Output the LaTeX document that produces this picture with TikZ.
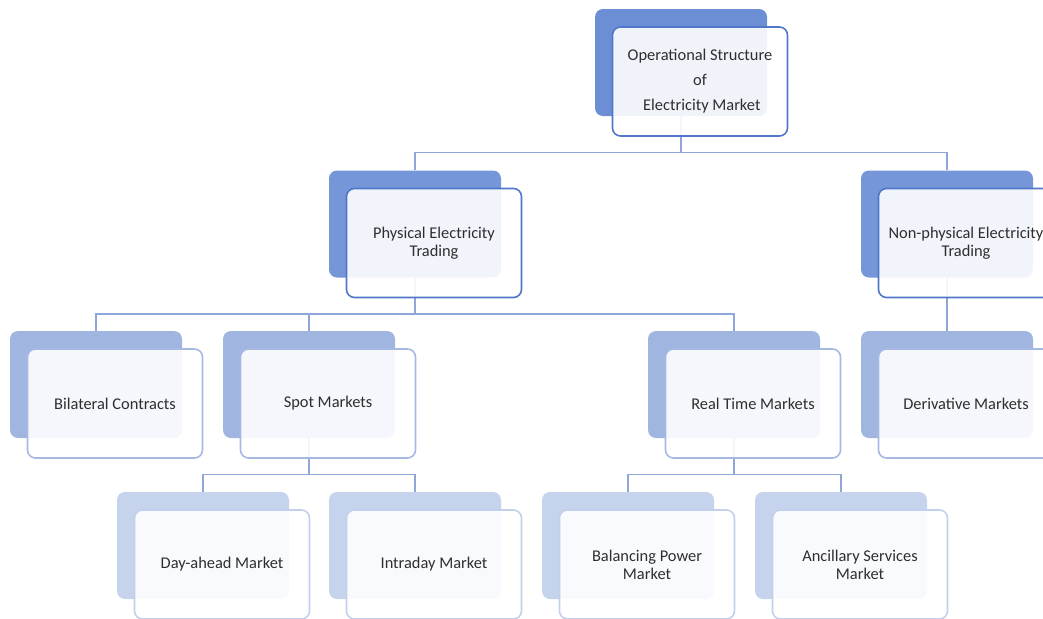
\documentclass[tikz,border=0pt]{standalone}
\usepackage{fontspec}
\setmainfont{Carlito}
\usepackage{xcolor}
\usetikzlibrary{positioning}
\definecolor{marketdark}{HTML}{6C8ED5}
\definecolor{marketmid}{HTML}{7596D8}
\definecolor{marketlight}{HTML}{A0B6E1}
\definecolor{marketpale}{HTML}{C6D3EC}
\definecolor{edgedark}{HTML}{5077C9}
\definecolor{edgelight}{HTML}{A6B9E3}
\definecolor{edgepale}{HTML}{C3D0EB}
\definecolor{linkblue}{HTML}{8FA6DB}
\definecolor{marketText}{HTML}{2E2E2E}

\begin{document}
\begin{tikzpicture}[
        x=0.75pt, y=-0.75pt,
        font=\fontsize{12.3}{13.5}\selectfont,
        backbox/.style={
            fill=#1,
            rounded corners=6pt,
            inner sep=0pt,
            minimum width=129pt,
            minimum height=80.25pt
        },
        frontbox/.style={
            draw=#1,
            line width=1.2pt,
            fill=white,
            fill opacity=0.9,
            text opacity=1,
            text=marketText,
            rounded corners=6pt,
            inner sep=0pt,
            minimum width=131.25pt,
            minimum height=81.75pt,
            align=center
        },
        link/.style={draw=linkblue, line width=1.1pt}
    ]
        \useasboundingbox (0,0) rectangle (1043,618);
        \clip (0,0) rectangle (1043,618);

        % back boxes
        \node[backbox=marketdark] (root) at (681,62.5) {};
        \node[backbox=marketmid] (phys) at (415,224) {};
        \node[backbox=marketmid] (nonphys) at (947,224) {};
        \node[backbox=marketlight] (bilat) at (96,384.5) {};
        \node[backbox=marketlight] (spot) at (309,384.5) {};
        \node[backbox=marketlight] (realtime) at (734,384.5) {};
        \node[backbox=marketlight] (deriv) at (947,384.5) {};
        \node[backbox=marketpale] (dayahead) at (203,545.5) {};
        \node[backbox=marketpale] (intraday) at (415,545.5) {};
        \node[backbox=marketpale] (balancing) at (628,545.5) {};
        \node[backbox=marketpale] (ancillary) at (841,545.5) {};

        % connectors
        \draw[link] (root.south) -- ++(0,36) -| (phys.north);
        \draw[link] (root.south) -- ++(0,36) -| (nonphys.north);
        \draw[link] (phys.south) -- ++(0,36) -| (bilat.north);
        \draw[link] (phys.south) -- ++(0,36) -| (spot.north);
        \draw[link] (phys.south) -- ++(0,36) -| (realtime.north);
        \draw[link] (nonphys.south) -- (deriv.north);
        \draw[link] (spot.south) -- ++(0,36) -| (dayahead.north);
        \draw[link] (spot.south) -- ++(0,36) -| (intraday.north);
        \draw[link] (realtime.south) -- ++(0,36) -| (balancing.north);
        \draw[link] (realtime.south) -- ++(0,36) -| (ancillary.north);

        % front boxes
        \node[frontbox=edgedark] (rootf) at ([shift={(19,19)}]root)
            {Operational Structure\\[5.25pt] of\\[5.25pt] \ Electricity Market};
        \node[frontbox=edgedark] (physf) at ([shift={(19,19)}]phys)
            {Physical Electricity\\Trading};
        \node[frontbox=edgedark] (nonphysf) at ([shift={(19,19)}]nonphys)
            {Non-physical Electricity\\Trading};
        \node[frontbox=edgelight] (bilatf) at ([shift={(19,19)}]bilat)
            {Bilateral Contracts};
        \node[frontbox=edgelight] (spotf) at ([shift={(19,19)}]spot)
            {Spot Markets};
        \node[frontbox=edgelight] (realtimef) at ([shift={(19,19)}]realtime)
            {Real Time Markets};
        \node[frontbox=edgelight] (derivf) at ([shift={(19,19)}]deriv)
            {Derivative Markets};
        \node[frontbox=edgepale] (dayaheadf) at ([shift={(19,19)}]dayahead)
            {Day-ahead Market};
        \node[frontbox=edgepale] (intradayf) at ([shift={(19,19)}]intraday)
            {Intraday Market};
        \node[frontbox=edgepale] (balancingf) at ([shift={(19,19)}]balancing)
            {Balancing Power\\Market};
        \node[frontbox=edgepale] (ancillaryf) at ([shift={(19,19)}]ancillary)
            {Ancillary Services\\Market};
    \end{tikzpicture}
\end{document}
